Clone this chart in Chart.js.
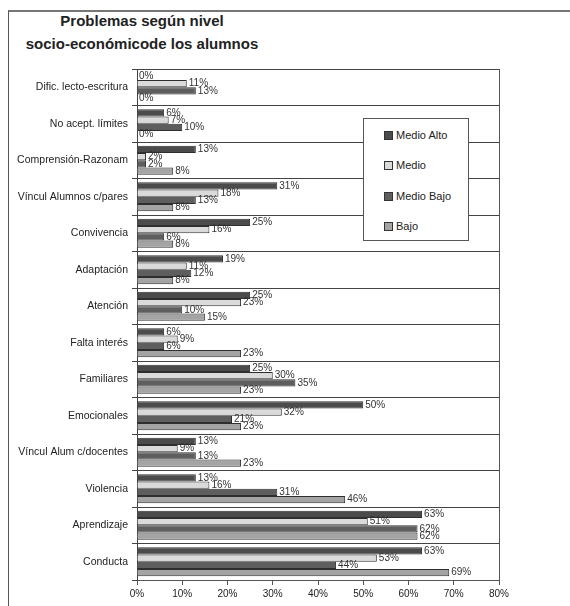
<!DOCTYPE html>
<html>
<head>
<meta charset="utf-8">
<script src="https://cdn.jsdelivr.net/npm/chart.js@4.4.1/dist/chart.umd.min.js"></script>
<style>
  body { margin: 0; background: #fff; font-family: "Liberation Sans", Arial, sans-serif; }
  #wrap { position: relative; width: 570px; height: 606px; overflow: hidden; }
  #marco { position: absolute; left: 8px; top: 10px; right: -5px; bottom: -5px; border-top: 2px solid #777; border-left: 1px solid #555; }
  #titulo { position: absolute; left: 0; top: 9px; width: 284px; text-align: center; font-weight: bold; font-size: 15px; line-height: 23px; color: #222; }
  #leyenda { position: absolute; left: 363px; top: 118px; width: 104px; height: 121px; background: #fff; border: 1px solid #555; font-size: 11px; color: #222; }
  #leyenda div { position: absolute; left: 20px; height: 14px; line-height: 14px; }
  #leyenda span { display: inline-block; width: 7px; height: 7px; border: 1px solid #333; margin-right: 3px; vertical-align: -1px; }
  canvas { position: absolute; left: 0; top: 0; }
</style>
</head>
<body>
<div id="wrap">
  <div id="marco"></div>
  <div id="titulo">Problemas según nivel<br>socio-económicode los alumnos</div>
  <canvas id="myChart" width="570" height="606"></canvas>
  <div id="leyenda"></div>
</div>
<script>
const categorias = ["Dific. lecto-escritura", "No acept. límites", "Comprensión-Razonam", "Víncul Alumnos c/pares",
  "Convivencia", "Adaptación", "Atención", "Falta interés", "Familiares", "Emocionales",
  "Víncul Alum c/docentes", "Violencia", "Aprendizaje", "Conducta"]
const series = ["Medio Alto", "Medio", "Medio Bajo", "Bajo"]
const medioAlto = [0, 6, 13, 31, 25, 19, 25, 6, 25, 50, 13, 13, 63, 63]
const medio = [11, 7, 2, 18, 16, 11, 23, 9, 30, 32, 9, 16, 51, 53]
const medioBajo = [13, 10, 2, 13, 6, 12, 10, 6, 35, 21, 13, 31, 62, 44]
const bajo = [0, 0, 8, 8, 8, 8, 15, 23, 23, 23, 23, 46, 62, 69]
const ticksX = [0, 10, 20, 30, 40, 50, 60, 70, 80]

const colores = ["#4b4b4b", "#dadada", "#5e5e5e", "#a4a4a4"]
const canvas = document.querySelector("#myChart")

// etiquetas de porcentaje al final de cada barra
const etiquetas = {
    id: "etiquetas",
    afterDatasetsDraw(chart) {
        const ctx = chart.ctx
        ctx.save()
        ctx.font = "10px 'Liberation Sans', Arial, sans-serif"
        ctx.fillStyle = "#333"
        ctx.textBaseline = "middle"
        chart.data.datasets.forEach((ds, i) => {
            chart.getDatasetMeta(i).data.forEach((bar, j) => {
                ctx.fillText(ds.data[j] + "%", bar.x + 2, bar.y)
            })
        })
        ctx.restore()
    }
}

// borde derecho del area del grafico
const bordeDerecho = {
    id: "bordeDerecho",
    afterDraw(chart) {
        const a = chart.chartArea
        const ctx = chart.ctx
        ctx.save()
        ctx.strokeStyle = "#555"
        ctx.lineWidth = 1
        ctx.beginPath()
        ctx.moveTo(Math.round(a.right) + 0.5, a.top)
        ctx.lineTo(Math.round(a.right) + 0.5, a.bottom)
        ctx.stroke()
        ctx.restore()
    }
}

const datasets = [medioAlto, medio, medioBajo, bajo].map((data, i) => ({
    label: series[i],
    data,
    backgroundColor: colores[i],
    borderColor: "#2e2e2e",
    borderWidth: 1,
    categoryPercentage: 0.8,
    barPercentage: 1
}))

new Chart(canvas, {
    type: "bar",
    data: { labels: categorias, datasets },
    options: {
        indexAxis: "y",
        responsive: false,
        animation: false,
        layout: { padding: { left: 10, right: 71, top: 69, bottom: 0 } },
        plugins: { legend: { display: false }, tooltip: { enabled: false } },
        scales: {
            x: {
                min: 0,
                max: 80,
                afterFit: (s) => { s.height = 26 },
                afterBuildTicks: (s) => { s.ticks = ticksX.map(v => ({ value: v })) },
                ticks: {
                    callback: (v) => v + "%",
                    font: { size: 10, family: "'Liberation Sans', Arial, sans-serif" },
                    color: "#222",
                    padding: 3,
                    maxRotation: 0
                },
                grid: { drawOnChartArea: false, drawTicks: true, tickLength: 5, color: "#555" },
                border: { color: "#555" }
            },
            y: {
                afterFit: (s) => { s.width = 127 },
                ticks: {
                    font: { size: 10.5, family: "'Liberation Sans', Arial, sans-serif" },
                    color: "#222",
                    padding: 4
                },
                grid: { offset: true, color: "#444", tickLength: 5 },
                border: { color: "#444" }
            }
        }
    },
    plugins: [etiquetas, bordeDerecho]
})

// leyenda
const leyenda = document.querySelector("#leyenda")
const posY = [9, 39, 70, 100]
series.forEach((nombre, i) => {
    const item = document.createElement("div")
    item.style.top = posY[i] + "px"
    item.innerHTML = `<span style="background:${colores[i]}"></span>${nombre}`
    leyenda.appendChild(item)
})
</script>
</body>
</html>
